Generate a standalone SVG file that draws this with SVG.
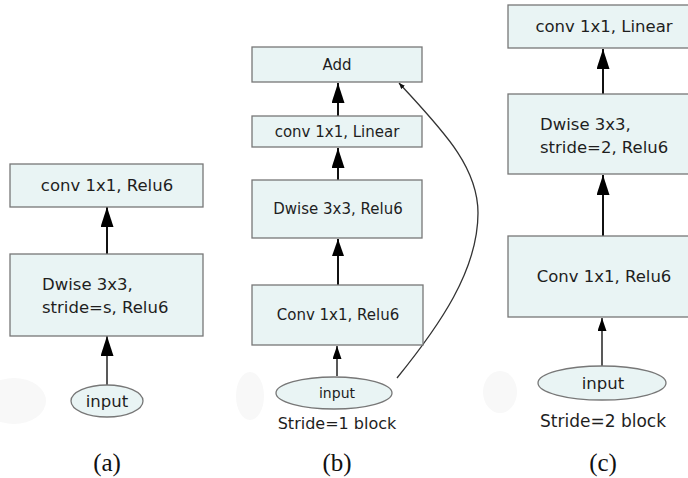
<svg xmlns="http://www.w3.org/2000/svg" width="688" height="478" viewBox="0 0 688 478">
  <style>
    .box { fill: #e9f4f4; stroke: #777777; stroke-width: 1.3; }
    .oval { fill: #e9f4f4; stroke: #777777; stroke-width: 1.3; }
    .t { font-family: "DejaVu Sans", "Liberation Sans", sans-serif; fill: #1e1e1e; }
    .c { text-anchor: middle; }
    .cap { font-family: "Liberation Serif", "DejaVu Serif", serif; font-size: 25px; fill: #111111; text-anchor: middle; }
    .edge { stroke: #111111; stroke-width: 2; fill: none; }
    .edge-thin { stroke: #222222; stroke-width: 1.5; fill: none; }
    .skip { stroke: #333333; stroke-width: 1.3; fill: none; }
    .ghost { fill: #f8f8f8; }
  </style>
  <defs>
    <marker id="head" viewBox="0 0 20 13" refX="20" refY="6.5" markerWidth="20" markerHeight="13" markerUnits="userSpaceOnUse" orient="auto">
      <path d="M0,0 L20,6.5 L0,13 Z" fill="#000000"/>
    </marker>
    <marker id="head-md" viewBox="0 0 17 12" refX="17" refY="6" markerWidth="17" markerHeight="12" markerUnits="userSpaceOnUse" orient="auto">
      <path d="M0,0 L17,6 L0,12 Z" fill="#000000"/>
    </marker>
    <marker id="head-sm" viewBox="0 0 13 9" refX="13" refY="4.5" markerWidth="13" markerHeight="9" markerUnits="userSpaceOnUse" orient="auto">
      <path d="M0,0 L13,4.5 L0,9 Z" fill="#000000"/>
    </marker>
    <marker id="head-tiny" viewBox="0 0 6 5" refX="6" refY="2.5" markerWidth="6" markerHeight="5" markerUnits="userSpaceOnUse" orient="auto">
      <path d="M0,0 L6,2.5 L0,5 Z" fill="#111111"/>
    </marker>
  </defs>

  <rect width="688" height="478" fill="#ffffff"/>

  <!-- faint background smudges -->
  <ellipse class="ghost" cx="14" cy="401" rx="32" ry="23"/>
  <ellipse class="ghost" cx="250" cy="396" rx="14" ry="24"/>
  <ellipse class="ghost" cx="500" cy="392" rx="17" ry="21"/>

  <!-- connectors -->
  <g id="connectors">
    <!-- (a) -->
    <line class="edge" x1="107" y1="254" x2="107" y2="207" marker-end="url(#head)"/>
    <line class="edge-thin" x1="107" y1="385" x2="107" y2="336" marker-end="url(#head)"/>
    <!-- (b) -->
    <line class="edge" x1="338" y1="116" x2="338" y2="83" marker-end="url(#head)"/>
    <line class="edge" x1="338" y1="180" x2="338" y2="148" marker-end="url(#head)"/>
    <line class="edge" x1="338" y1="285" x2="338" y2="239" marker-end="url(#head-md)"/>
    <line class="edge-thin" x1="337" y1="376" x2="337" y2="346" marker-end="url(#head-sm)"/>
    <path class="skip" d="M397,378 C440,325 478,270 478,213 C478,165 440,128 399,83" marker-end="url(#head-tiny)"/>
    <!-- (c) -->
    <line class="edge" x1="603" y1="94" x2="603" y2="49" marker-end="url(#head)"/>
    <line class="edge" x1="603" y1="236" x2="603" y2="175" marker-end="url(#head)"/>
    <line class="edge-thin" x1="602" y1="367" x2="602" y2="318" marker-end="url(#head-sm)"/>
  </g>

  <!-- (a) block without expansion -->
  <g id="a-conv">
    <rect class="box" x="10" y="164" width="193" height="43"/>
    <text class="t c" x="107" y="191" font-size="16.5">conv 1x1, Relu6</text>
  </g>
  <g id="a-dwise">
    <rect class="box" x="10" y="254" width="193" height="82"/>
    <text class="t" x="42" y="290" font-size="16.5">Dwise 3x3,</text>
    <text class="t" x="42" y="313" font-size="16.5">stride=s, Relu6</text>
  </g>
  <g id="a-input">
    <ellipse class="oval" cx="107" cy="401" rx="36" ry="16"/>
    <text class="t c" x="107" y="407" font-size="16.5">input</text>
  </g>
  <text class="cap" x="107" y="471">(a)</text>

  <!-- (b) stride 1 block with residual -->
  <g id="b-add">
    <rect class="box" x="252" y="47" width="170" height="35"/>
    <text class="t c" x="337" y="70" font-size="15">Add</text>
  </g>
  <g id="b-linear">
    <rect class="box" x="252" y="116" width="170" height="31"/>
    <text class="t c" x="337" y="137" font-size="15">conv 1x1, Linear</text>
  </g>
  <g id="b-dwise">
    <rect class="box" x="252" y="180" width="170" height="58"/>
    <text class="t c" x="338" y="214" font-size="15">Dwise 3x3, Relu6</text>
  </g>
  <g id="b-expand">
    <rect class="box" x="252" y="285" width="171" height="60"/>
    <text class="t c" x="338" y="320" font-size="15">Conv 1x1, Relu6</text>
  </g>
  <g id="b-input">
    <ellipse class="oval" cx="334" cy="393" rx="58" ry="16"/>
    <text class="t c" x="337" y="398" font-size="14">input</text>
  </g>
  <text class="t c" x="337" y="429" font-size="16">Stride=1 block</text>
  <text class="cap" x="337" y="471">(b)</text>

  <!-- (c) stride 2 block -->
  <g id="c-linear">
    <rect class="box" x="508" y="5" width="190" height="43"/>
    <text class="t c" x="604" y="32" font-size="16.5">conv 1x1, Linear</text>
  </g>
  <g id="c-dwise">
    <rect class="box" x="508" y="94" width="190" height="80"/>
    <text class="t" x="540" y="130" font-size="16.5">Dwise 3x3,</text>
    <text class="t" x="540" y="153" font-size="16.5">stride=2, Relu6</text>
  </g>
  <g id="c-expand">
    <rect class="box" x="508" y="236" width="190" height="81"/>
    <text class="t c" x="604" y="282" font-size="16.5">Conv 1x1, Relu6</text>
  </g>
  <g id="c-input">
    <ellipse class="oval" cx="602" cy="383" rx="64" ry="17"/>
    <text class="t c" x="603" y="389" font-size="16.5">input</text>
  </g>
  <text class="t c" x="603" y="427" font-size="17">Stride=2 block</text>
  <text class="cap" x="603" y="471">(c)</text>
</svg>
